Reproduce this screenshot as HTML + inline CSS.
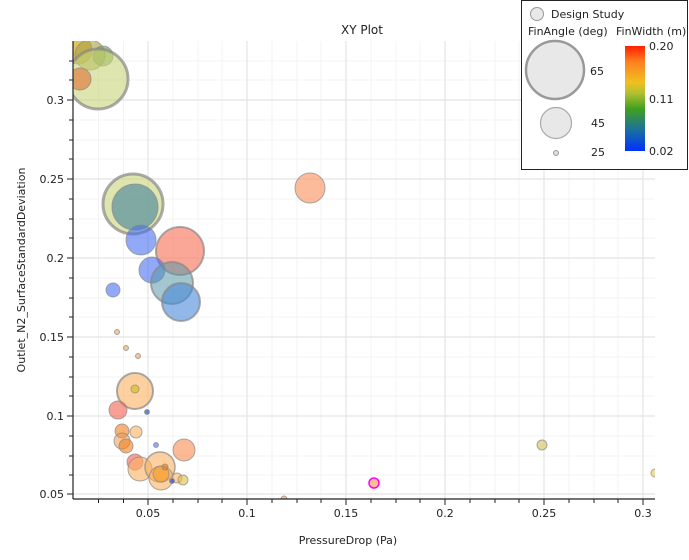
<!DOCTYPE html>
<html><head><meta charset="utf-8"><style>
html,body{margin:0;padding:0;background:#fff;}
svg{display:block;font-family:"DejaVu Sans","Liberation Sans",sans-serif;}
</style></head><body>
<svg width="689" height="560" viewBox="0 0 689 560" xmlns="http://www.w3.org/2000/svg">
<defs>
<clipPath id="pc"><rect x="73" y="41" width="582" height="458"/></clipPath>
<linearGradient id="cb" x1="0" y1="1" x2="0" y2="0">
<stop offset="0" stop-color="#0030ff"/>
<stop offset="0.2" stop-color="#1a70a0"/>
<stop offset="0.4" stop-color="#40a020"/>
<stop offset="0.55" stop-color="#b0c030"/>
<stop offset="0.65" stop-color="#f0c020"/>
<stop offset="0.85" stop-color="#ff8020"/>
<stop offset="1" stop-color="#ff2000"/>
</linearGradient>
</defs>
<rect width="689" height="560" fill="#fff"/>
<text x="362" y="34" font-size="12" text-anchor="middle" fill="#222">XY Plot</text>
<g stroke="#f3f3f3" stroke-width="1">
<line x1="98.5" y1="41" x2="98.5" y2="499"/><line x1="123.5" y1="41" x2="123.5" y2="499"/>
<line x1="173" y1="41" x2="173" y2="499"/><line x1="198" y1="41" x2="198" y2="499"/><line x1="222" y1="41" x2="222" y2="499"/>
<line x1="272" y1="41" x2="272" y2="499"/><line x1="297" y1="41" x2="297" y2="499"/><line x1="321" y1="41" x2="321" y2="499"/>
<line x1="371" y1="41" x2="371" y2="499"/><line x1="396" y1="41" x2="396" y2="499"/><line x1="420" y1="41" x2="420" y2="499"/>
<line x1="470" y1="41" x2="470" y2="499"/><line x1="495" y1="41" x2="495" y2="499"/><line x1="519" y1="41" x2="519" y2="499"/>
<line x1="569" y1="41" x2="569" y2="499"/><line x1="594" y1="41" x2="594" y2="499"/><line x1="618" y1="41" x2="618" y2="499"/>
<line x1="73" y1="61" x2="655" y2="61"/><line x1="73" y1="80" x2="655" y2="80"/><line x1="73" y1="120" x2="655" y2="120"/><line x1="73" y1="140" x2="655" y2="140"/><line x1="73" y1="159" x2="655" y2="159"/>
<line x1="73" y1="199" x2="655" y2="199"/><line x1="73" y1="219" x2="655" y2="219"/><line x1="73" y1="238" x2="655" y2="238"/>
<line x1="73" y1="278" x2="655" y2="278"/><line x1="73" y1="298" x2="655" y2="298"/><line x1="73" y1="317" x2="655" y2="317"/>
<line x1="73" y1="357" x2="655" y2="357"/><line x1="73" y1="377" x2="655" y2="377"/><line x1="73" y1="396" x2="655" y2="396"/>
<line x1="73" y1="436" x2="655" y2="436"/><line x1="73" y1="456" x2="655" y2="456"/><line x1="73" y1="475" x2="655" y2="475"/>
</g>
<g stroke="#e4e4e4" stroke-width="1.2">
<line x1="148" y1="41" x2="148" y2="499"/><line x1="247" y1="41" x2="247" y2="499"/><line x1="346" y1="41" x2="346" y2="499"/>
<line x1="445" y1="41" x2="445" y2="499"/><line x1="544" y1="41" x2="544" y2="499"/><line x1="643" y1="41" x2="643" y2="499"/>
<line x1="73" y1="100" x2="655" y2="100"/><line x1="73" y1="179" x2="655" y2="179"/><line x1="73" y1="258" x2="655" y2="258"/>
<line x1="73" y1="337" x2="655" y2="337"/><line x1="73" y1="416" x2="655" y2="416"/><line x1="73" y1="494" x2="655" y2="494"/>
</g>
<g clip-path="url(#pc)" stroke="#888" stroke-opacity="0.7">
<circle cx="78" cy="50" r="14" fill="#d4a820" fill-opacity="0.7"/>
<circle cx="90" cy="55" r="15" fill="#a8a040" fill-opacity="0.6"/>
<circle cx="103" cy="56" r="10" fill="#70a040" fill-opacity="0.6"/>
<circle cx="98" cy="79" r="30" fill="#c8d478" fill-opacity="0.6" stroke-width="3"/>
<circle cx="80" cy="79" r="11" fill="#e07030" fill-opacity="0.6"/>
<circle cx="310" cy="188" r="15" fill="#fba070" fill-opacity="0.7"/>
<circle cx="133" cy="204" r="30" fill="#c8d478" fill-opacity="0.6" stroke-width="3"/>
<circle cx="135" cy="207" r="23" fill="#5890a0" fill-opacity="0.7"/>
<circle cx="141" cy="240" r="15" fill="#4870f0" fill-opacity="0.6"/>
<circle cx="180" cy="251" r="24" fill="#f87860" fill-opacity="0.65" stroke-width="2"/>
<circle cx="152" cy="270" r="13" fill="#4870f0" fill-opacity="0.6"/>
<circle cx="172" cy="283" r="21" fill="#5898a8" fill-opacity="0.55" stroke-width="2"/>
<circle cx="181" cy="302" r="19" fill="#4888d8" fill-opacity="0.6" stroke-width="2"/>
<circle cx="113" cy="290" r="7" fill="#4870f0" fill-opacity="0.6"/>
<circle cx="117" cy="332" r="2.5" fill="#f0a050" fill-opacity="0.6"/>
<circle cx="126" cy="348" r="2.5" fill="#f0a050" fill-opacity="0.6"/>
<circle cx="138" cy="356" r="2.5" fill="#f0a050" fill-opacity="0.6"/>
<circle cx="135" cy="391" r="18" fill="#fcb060" fill-opacity="0.6" stroke-width="2"/>
<circle cx="135" cy="389" r="4" fill="#e0c030" fill-opacity="0.8"/>
<circle cx="118" cy="410" r="9" fill="#f56050" fill-opacity="0.6"/>
<circle cx="147" cy="412" r="2.5" fill="#3050c0" fill-opacity="0.7"/>
<circle cx="122" cy="431" r="7" fill="#f08020" fill-opacity="0.6"/>
<circle cx="136" cy="432" r="6" fill="#fcb060" fill-opacity="0.6"/>
<circle cx="122" cy="441" r="8" fill="#f09040" fill-opacity="0.5"/>
<circle cx="126" cy="446" r="7" fill="#f08020" fill-opacity="0.6"/>
<circle cx="156" cy="445" r="2.5" fill="#4870f0" fill-opacity="0.6"/>
<circle cx="184" cy="450" r="11" fill="#f88a50" fill-opacity="0.6"/>
<circle cx="135" cy="462" r="8" fill="#f55040" fill-opacity="0.55"/>
<circle cx="140" cy="469" r="12" fill="#fcb060" fill-opacity="0.6"/>
<circle cx="160" cy="467" r="15" fill="#fcb060" fill-opacity="0.6" stroke-width="1.5"/>
<circle cx="161" cy="478" r="12" fill="#fcb060" fill-opacity="0.6"/>
<circle cx="161" cy="474" r="8" fill="#f8a030" fill-opacity="0.7"/>
<circle cx="165" cy="467" r="3" fill="#f08020" fill-opacity="0.7"/>
<circle cx="177" cy="478" r="5" fill="#fcb060" fill-opacity="0.6"/>
<circle cx="183" cy="480" r="5" fill="#e0c040" fill-opacity="0.6"/>
<circle cx="172" cy="481" r="2.5" fill="#3050c0" fill-opacity="0.7"/>
<circle cx="284" cy="499" r="3" fill="#f0a050" fill-opacity="0.6"/>
<circle cx="374" cy="483" r="5" fill="#fcc090" stroke="#ff00ff" stroke-opacity="1" stroke-width="1.5"/>
<circle cx="542" cy="445" r="5" fill="#d8d080" fill-opacity="0.8"/>
<circle cx="655" cy="473" r="4" fill="#f0d890" fill-opacity="0.9"/>
</g>
<g stroke="#222" stroke-width="1.2">
<line x1="73" y1="41" x2="73" y2="499"/><line x1="73" y1="499" x2="655" y2="499"/>
</g>
<g stroke="#222" stroke-width="1">
<line x1="148" y1="499" x2="148" y2="505"/><line x1="247" y1="499" x2="247" y2="505"/><line x1="346" y1="499" x2="346" y2="505"/><line x1="445" y1="499" x2="445" y2="505"/><line x1="544" y1="499" x2="544" y2="505"/><line x1="643" y1="499" x2="643" y2="505"/>
<line x1="98.5" y1="499" x2="98.5" y2="503"/><line x1="123.5" y1="499" x2="123.5" y2="503"/><line x1="173" y1="499" x2="173" y2="503"/><line x1="198" y1="499" x2="198" y2="503"/><line x1="222" y1="499" x2="222" y2="503"/><line x1="272" y1="499" x2="272" y2="503"/><line x1="297" y1="499" x2="297" y2="503"/><line x1="321" y1="499" x2="321" y2="503"/><line x1="371" y1="499" x2="371" y2="503"/><line x1="396" y1="499" x2="396" y2="503"/><line x1="420" y1="499" x2="420" y2="503"/><line x1="470" y1="499" x2="470" y2="503"/><line x1="495" y1="499" x2="495" y2="503"/><line x1="519" y1="499" x2="519" y2="503"/><line x1="569" y1="499" x2="569" y2="503"/><line x1="594" y1="499" x2="594" y2="503"/><line x1="618" y1="499" x2="618" y2="503"/>
<line x1="67" y1="100" x2="73" y2="100"/><line x1="67" y1="179" x2="73" y2="179"/><line x1="67" y1="258" x2="73" y2="258"/><line x1="67" y1="337" x2="73" y2="337"/><line x1="67" y1="416" x2="73" y2="416"/><line x1="67" y1="494" x2="73" y2="494"/>
<line x1="69" y1="61" x2="73" y2="61"/><line x1="69" y1="80" x2="73" y2="80"/><line x1="69" y1="120" x2="73" y2="120"/><line x1="69" y1="140" x2="73" y2="140"/><line x1="69" y1="159" x2="73" y2="159"/><line x1="69" y1="199" x2="73" y2="199"/><line x1="69" y1="219" x2="73" y2="219"/><line x1="69" y1="238" x2="73" y2="238"/><line x1="69" y1="278" x2="73" y2="278"/><line x1="69" y1="298" x2="73" y2="298"/><line x1="69" y1="317" x2="73" y2="317"/><line x1="69" y1="357" x2="73" y2="357"/><line x1="69" y1="377" x2="73" y2="377"/><line x1="69" y1="396" x2="73" y2="396"/><line x1="69" y1="436" x2="73" y2="436"/><line x1="69" y1="456" x2="73" y2="456"/><line x1="69" y1="475" x2="73" y2="475"/>
</g>
<g font-size="11" fill="#222" text-anchor="middle">
<text x="148" y="517">0.05</text><text x="247" y="517">0.1</text><text x="346" y="517">0.15</text><text x="445" y="517">0.2</text><text x="544" y="517">0.25</text><text x="643" y="517">0.3</text>
</g>
<g font-size="11" fill="#222" text-anchor="end">
<text x="64" y="104">0.3</text><text x="64" y="183">0.25</text><text x="64" y="262">0.2</text><text x="64" y="341">0.15</text><text x="64" y="420">0.1</text><text x="64" y="498">0.05</text>
</g>
<text x="348" y="544" font-size="11" fill="#222" text-anchor="middle">PressureDrop (Pa)</text>
<text transform="translate(25,270) rotate(-90)" font-size="11" fill="#222" text-anchor="middle">Outlet_N2_SurfaceStandardDeviation</text>
<rect x="521.5" y="0.5" width="166" height="169" fill="#fff" stroke="#222" stroke-width="1"/>
<circle cx="537" cy="14" r="6.5" fill="#e8e8e8" stroke="#999"/>
<text x="551" y="18" font-size="11" fill="#222">Design Study</text>
<text x="528" y="35" font-size="11" fill="#222">FinAngle (deg)</text>
<text x="616" y="35" font-size="11" fill="#222">FinWidth (m)</text>
<circle cx="555" cy="70" r="29" fill="#e8e8e8" stroke="#999" stroke-width="2.5"/>
<circle cx="556" cy="123" r="15.5" fill="#e8e8e8" stroke="#aaa" stroke-width="1.2"/>
<circle cx="556" cy="153" r="2.5" fill="#ddd" stroke="#999"/>
<text x="590" y="75" font-size="11" fill="#222">65</text>
<text x="591" y="127" font-size="11" fill="#222">45</text>
<text x="591" y="156" font-size="11" fill="#222">25</text>
<rect x="625" y="46" width="20" height="105" fill="url(#cb)"/>
<text x="649" y="50" font-size="11" fill="#222">0.20</text>
<text x="649" y="103" font-size="11" fill="#222">0.11</text>
<text x="649" y="155" font-size="11" fill="#222">0.02</text>
</svg>
</body></html>
